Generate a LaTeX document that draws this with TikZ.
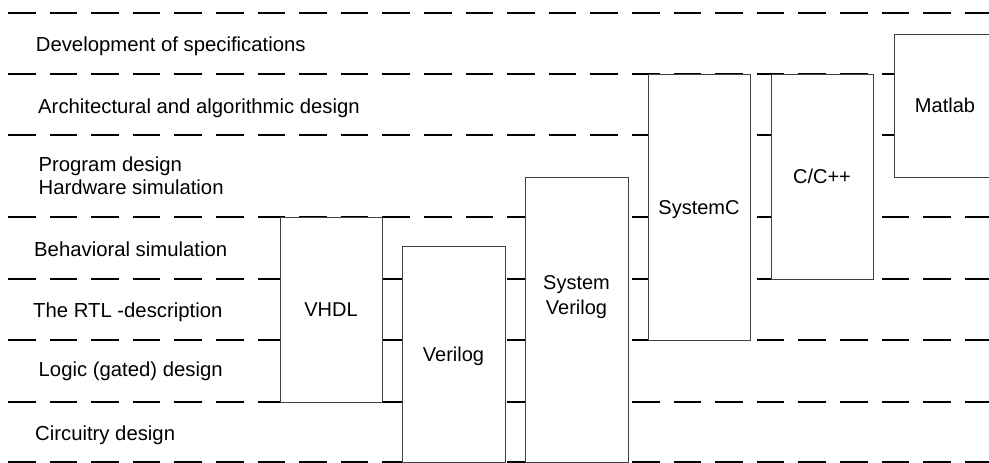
\documentclass[tikz,border=0pt]{standalone}
\usepackage{fontspec}
\setmainfont{Liberation Sans}
\usetikzlibrary{positioning}

\begin{document}
\begin{tikzpicture}[x=1pt, y=-1pt,
  level/.style={line width=1.7pt, dash pattern=on 27.5pt off 14.1pt},
  stage/.style={anchor=base west, inner sep=0pt, align=left, font=\fontsize{20.3}{23.3}\selectfont},
  lang/.style={draw=black!75, fill=white, line width=0.9pt, inner sep=0pt, align=center,
    text height=14.5pt, text depth=0pt, font=\fontsize{20}{25}\selectfont}]

\useasboundingbox (0,0) rectangle (989,463);
\clip (0,0) rectangle (989,463);

% levels
\foreach \y in {13,74,135,217,279,340,402,462}
  \draw[level] (8,\y) -- (989,\y);

\node[stage] (spec) at (35.7,51.7) {Development of specifications};
\node[stage] (arch) at (38,113.3) {Architectural and algorithmic design};
\node[stage] (prog) at (38.4,194.3) {Program design\\Hardware simulation};
\node[stage] (behav) at (34,256) {Behavioral simulation};
\node[stage] (rtl) at (33,317.3) {The RTL -description};
\node[stage] (logic) at (38.5,376.7) {Logic (gated) design};
\node[stage] (circ) at (35,440) {Circuitry design};

% languages
\node[lang, minimum width=102pt, minimum height=185pt] (vhdl) at (331,309.5) {VHDL};
\node[lang, minimum width=103pt, minimum height=216pt] (verilog) at (453.5,354) {Verilog};
\node[lang, minimum width=103pt, minimum height=285pt, text depth=25pt] (sv) at (576.5,319.5) {System\\Verilog};
\node[lang, minimum width=102pt, minimum height=266pt] (sysc) at (699,207) {SystemC};
\node[lang, minimum width=102pt, minimum height=205pt] (cpp) at (822,176.5) {C/C++};
\node[lang, minimum width=102pt, minimum height=143pt] (matlab) at (945,105.5) {Matlab};

\end{tikzpicture}
\end{document}
